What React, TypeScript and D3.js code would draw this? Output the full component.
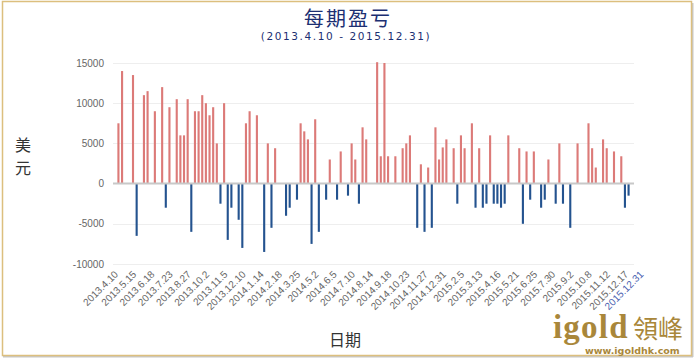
import React, { useEffect, useRef } from "react";
import * as d3 from "d3";

// weekly profit/loss (USD), one entry per period
const values = [
  0, 7500, 14000, 0, 0, 13500, -6500, 0, 11000, 11500,
  0, 9000, 0, 12000, -3000, 9500, 0, 10500, 6000, 6000,
  10500, -6000, 9000, 9000, 11000, 10000, 8500, 9500, 5000, -2500,
  10000, -7000, -3000, 0, -4500, -8000, 7500, 9000, 0, 8500,
  0, -8500, 5000, -5500, 4400, 0, 0, -4000, -3000, 0,
  -2000, 7500, 6500, 5500, -7500, 8000, -6000, 0, -2000, 3000,
  0, -2000, 4000, 0, -1500, 5000, 3000, -2500, 7000, 5500,
  0, 0, 15100, 3400, 15000, 3400, 0, 3400, 0, 4400,
  5000, 6000, 0, -5500, 2400, -6000, 2000, -5500, 7000, 3000,
  4500, 5500, 0, 4400, -2500, 6000, 4400, 0, 7500, -3000,
  4400, -3000, -2500, 6000, -2500, -2500, -3000, -2500, 6000, 0,
  0, 4400, -5000, 4000, -2000, 4000, 0, -3000, -2000, 3000,
  0, -2500, 5000, -2500, 0, -5500, 0, 5000, 0, 0,
  7500, 4400, 2000, 0, 5500, 4400, 0, 4000, 0, 3400,
  -3000, -1500, 0
];

const tickLabels = [
  "2013.4.10", "2013.5.15", "2013.6.18", "2013.7.23", "2013.8.27", "2013.10.2",
  "2013.11.5", "2013.12.10", "2014.1.14", "2014.2.18", "2014.3.25", "2014.5.2",
  "2014.6.5", "2014.7.10", "2014.8.14", "2014.9.18", "2014.10.23", "2014.11.27",
  "2014.12.31", "2015.2.5", "2015.3.13", "2015.4.16", "2015.5.21", "2015.6.25",
  "2015.7.30", "2015.9.2", "2015.10.8", "2015.11.12", "2015.12.17", "2015.12.31"
];
const tickIndex = [
  0, 5, 10, 15, 20, 25, 30, 35, 40, 45, 50, 55, 60, 65, 70, 75, 80, 85, 90,
  95, 100, 105, 110, 115, 120, 125, 130, 135, 140, 142
];

const yTicks = [-10000, -5000, 0, 5000, 10000, 15000];

const W = 695;
const H = 362;

export default function App() {
  const ref = useRef<SVGSVGElement | null>(null);

  useEffect(() => {
    const svg = d3.select(ref.current);
    svg.selectAll("*").remove();

    const left = 113;
    const right = 634;

    const x = d3
      .scaleBand<number>()
      .domain(values.map((_, i) => i))
      .range([left, right])
      .paddingInner(0.42)
      .paddingOuter(0.2);

    const y = d3.scaleLinear().domain([-10000, 15000]).range([264, 63]);

    // frame
    svg
      .append("line")
      .attr("x1", 692.5).attr("x2", 692.5).attr("y1", 3).attr("y2", 357)
      .attr("stroke", "#c8c8c8").attr("stroke-width", 2);
    svg
      .append("line")
      .attr("x1", 3).attr("x2", 693).attr("y1", 356.5).attr("y2", 356.5)
      .attr("stroke", "#c8c8c8").attr("stroke-width", 2);
    svg
      .append("rect")
      .attr("x", 2.5).attr("y", 1.5).attr("width", 689).attr("height", 354)
      .attr("fill", "none")
      .attr("stroke", "#dcbf7e")
      .attr("stroke-width", 1.5);

    // titles
    svg
      .append("text")
      .attr("x", 348).attr("y", 26)
      .attr("text-anchor", "middle")
      .attr("font-family", "'Noto Sans CJK SC', sans-serif")
      .attr("font-size", 20)
      .attr("letter-spacing", 2)
      .attr("fill", "#1c2f72")
      .text("每期盈亏");
    svg
      .append("text")
      .attr("x", 346).attr("y", 40)
      .attr("text-anchor", "middle")
      .attr("font-family", "'DejaVu Sans', sans-serif")
      .attr("font-size", 10.5)
      .attr("letter-spacing", 1.6)
      .attr("fill", "#1c2f72")
      .text("(2013.4.10 - 2015.12.31)");

    // grid
    const grid = svg.append("g");
    grid
      .selectAll("line")
      .data(yTicks.filter((t) => t !== 0))
      .join("line")
      .attr("x1", left)
      .attr("x2", right)
      .attr("y1", (d) => Math.round(y(d)) + 0.5)
      .attr("y2", (d) => Math.round(y(d)) + 0.5)
      .attr("stroke", "#eeeeee");

    svg
      .append("g")
      .selectAll("text")
      .data(yTicks)
      .join("text")
      .attr("x", 104)
      .attr("y", (d) => y(d) + 3.5)
      .attr("text-anchor", "end")
      .attr("font-family", "'Liberation Sans', Arial, sans-serif")
      .attr("font-size", 10)
      .attr("fill", "#666")
      .text((d) => String(d));

    // bars
    svg
      .append("g")
      .selectAll("rect")
      .data(values.map((v, i) => ({ v, i })).filter((d) => d.v !== 0))
      .join("rect")
      .attr("x", (d) => x(d.i) as number)
      .attr("width", x.bandwidth())
      .attr("y", (d) => (d.v > 0 ? y(d.v) : y(0)))
      .attr("height", (d) => Math.abs(y(d.v) - y(0)))
      .attr("fill", (d) => (d.v > 0 ? "#dc7a78" : "#24538f"));

    // zero line
    svg
      .append("line")
      .attr("x1", left)
      .attr("x2", right)
      .attr("y1", y(0))
      .attr("y2", y(0))
      .attr("stroke", "#c8c8c8")
      .attr("stroke-width", 2);

    // x tick labels
    svg
      .append("g")
      .selectAll("text")
      .data(tickIndex.map((idx, k) => ({ idx, label: tickLabels[k], k })))
      .join("text")
      .attr("transform", (d) => {
        const cx = (x(d.idx) as number) + x.bandwidth() / 2 + (d.k === tickLabels.length - 1 ? 12 : 4);
        return `translate(${cx},${275}) rotate(-45)`;
      })
      .attr("text-anchor", "end")
      .attr("font-family", "'Liberation Sans', Arial, sans-serif")
      .attr("font-size", 10)
      .attr("fill", (d) => (d.k === tickLabels.length - 1 ? "#4a5fb0" : "#666"))
      .text((d) => d.label);

    // axis titles
    svg
      .append("text")
      .attr("x", 23).attr("y", 151)
      .attr("text-anchor", "middle")
      .attr("font-family", "'Noto Sans CJK SC', sans-serif")
      .attr("font-size", 16)
      .attr("fill", "#333")
      .text("美");
    svg
      .append("text")
      .attr("x", 23).attr("y", 174)
      .attr("text-anchor", "middle")
      .attr("font-family", "'Noto Sans CJK SC', sans-serif")
      .attr("font-size", 16)
      .attr("fill", "#333")
      .text("元");

    svg
      .append("text")
      .attr("x", 345).attr("y", 346)
      .attr("text-anchor", "middle")
      .attr("font-family", "'Noto Sans CJK SC', sans-serif")
      .attr("font-size", 16)
      .attr("fill", "#333")
      .text("日期");

    // logo
    svg
      .append("text")
      .attr("x", 553).attr("y", 338)
      .attr("font-family", "'Liberation Serif', serif")
      .attr("font-weight", "bold")
      .attr("font-size", 33)
      .attr("letter-spacing", 1.2)
      .attr("fill", "#a9873a")
      .text("igold");
    svg
      .append("text")
      .attr("x", 633).attr("y", 338)
      .attr("font-family", "'Noto Sans CJK TC', sans-serif")
      .attr("font-size", 25)
      .attr("fill", "#a9873a")
      .text("領峰");
    svg
      .append("text")
      .attr("x", 585).attr("y", 354)
      .attr("font-family", "'DejaVu Sans', sans-serif")
      .attr("font-weight", "bold")
      .attr("font-size", 9.5)
      .attr("fill", "#a9873a")
      .text("www.igoldhk.com");
  }, []);

  return (
    <svg
      ref={ref}
      width={W}
      height={H}
      style={{ position: "absolute", left: 0, top: 0, background: "#fff" }}
    />
  );
}
